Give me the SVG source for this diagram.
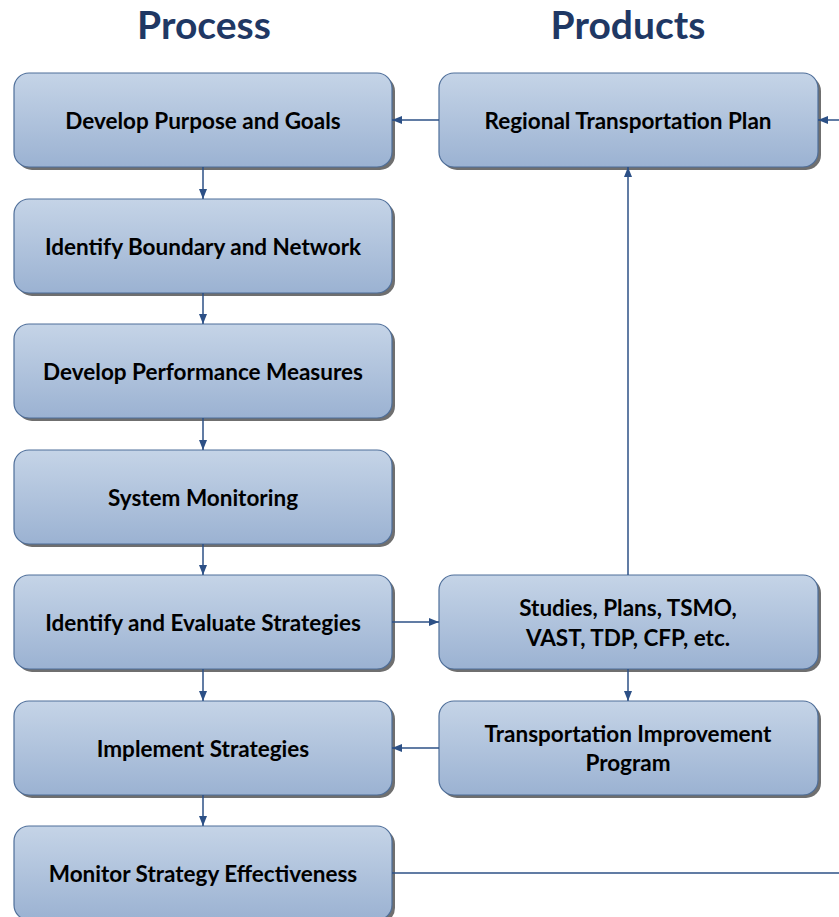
<svg xmlns="http://www.w3.org/2000/svg" width="839" height="917" viewBox="0 0 839 917">
<defs>
<linearGradient id="g" x1="0" y1="0" x2="0" y2="1">
<stop offset="0" stop-color="#c5d4e7"/>
<stop offset="1" stop-color="#9bb2d2"/>
</linearGradient>
<marker id="ah" markerWidth="10" markerHeight="8" refX="10" refY="4" orient="auto" markerUnits="userSpaceOnUse">
<path d="M0,0 L10,4 L0,8 z" fill="#2c5086"/>
</marker>
<style>
.box{fill:url(#g);stroke:#4f6f9a;stroke-width:1.2}
.sh{fill:#6f6f6f}
.t{font-family:Lato,"Open Sans",sans-serif;font-weight:bold;font-size:22.5px;fill:#000;text-anchor:middle;dominant-baseline:central}
.h{font-family:Lato,"Open Sans",sans-serif;font-weight:bold;font-size:39px;fill:#1f3864;text-anchor:middle}
.c{stroke:#2c5086;stroke-width:1.5;fill:none}
</style>
</defs>
<rect width="839" height="917" fill="#fff"/>
<text class="h" x="204" y="39">Process</text>
<text class="h" x="628" y="39">Products</text>

<g id="n1"><rect class="sh" x="17" y="76" width="378" height="94" rx="15"/><rect class="box" x="14" y="73" width="378" height="94" rx="15"/><text class="t" x="203" y="120">Develop Purpose and Goals</text></g>
<g id="n2"><rect class="sh" x="17" y="202" width="378" height="94" rx="15"/><rect class="box" x="14" y="199" width="378" height="94" rx="15"/><text class="t" x="203" y="246">Identify Boundary and Network</text></g>
<g id="n3"><rect class="sh" x="17" y="327" width="378" height="94" rx="15"/><rect class="box" x="14" y="324" width="378" height="94" rx="15"/><text class="t" x="203" y="371">Develop Performance Measures</text></g>
<g id="n4"><rect class="sh" x="17" y="453" width="378" height="94" rx="15"/><rect class="box" x="14" y="450" width="378" height="94" rx="15"/><text class="t" x="203" y="497">System Monitoring</text></g>
<g id="n5"><rect class="sh" x="17" y="578" width="378" height="94" rx="15"/><rect class="box" x="14" y="575" width="378" height="94" rx="15"/><text class="t" x="203" y="622">Identify and Evaluate Strategies</text></g>
<g id="n6"><rect class="sh" x="17" y="704" width="378" height="94" rx="15"/><rect class="box" x="14" y="701" width="378" height="94" rx="15"/><text class="t" x="203" y="748">Implement Strategies</text></g>
<g id="n7"><rect class="sh" x="17" y="829" width="378" height="94" rx="15"/><rect class="box" x="14" y="826" width="378" height="94" rx="15"/><text class="t" x="203" y="873">Monitor Strategy Effectiveness</text></g>

<g id="p1"><rect class="sh" x="442" y="76" width="379" height="94" rx="15"/><rect class="box" x="439" y="73" width="379" height="94" rx="15"/><text class="t" x="628" y="120">Regional Transportation Plan</text></g>
<g id="p2"><rect class="sh" x="442" y="578" width="379" height="94" rx="15"/><rect class="box" x="439" y="575" width="379" height="94" rx="15"/><text class="t" x="628" y="607">Studies, Plans, TSMO,</text><text class="t" x="628" y="637">VAST, TDP, CFP, etc.</text></g>
<g id="p3"><rect class="sh" x="442" y="704" width="379" height="94" rx="15"/><rect class="box" x="439" y="701" width="379" height="94" rx="15"/><text class="t" x="628" y="733">Transportation Improvement</text><text class="t" x="628" y="762">Program</text></g>

<g id="connectors">
<line class="c" x1="203" y1="167" x2="203" y2="199" marker-end="url(#ah)"/>
<line class="c" x1="203" y1="293" x2="203" y2="324" marker-end="url(#ah)"/>
<line class="c" x1="203" y1="418" x2="203" y2="450" marker-end="url(#ah)"/>
<line class="c" x1="203" y1="544" x2="203" y2="575" marker-end="url(#ah)"/>
<line class="c" x1="203" y1="669" x2="203" y2="701" marker-end="url(#ah)"/>
<line class="c" x1="203" y1="795" x2="203" y2="826" marker-end="url(#ah)"/>
<line class="c" x1="439" y1="120" x2="392" y2="120" marker-end="url(#ah)"/>
<line class="c" x1="839" y1="120" x2="818" y2="120" marker-end="url(#ah)"/>
<line class="c" x1="628" y1="575" x2="628" y2="167" marker-end="url(#ah)"/>
<line class="c" x1="392" y1="622" x2="439" y2="622" marker-end="url(#ah)"/>
<line class="c" x1="628" y1="669" x2="628" y2="701" marker-end="url(#ah)"/>
<line class="c" x1="439" y1="748" x2="392" y2="748" marker-end="url(#ah)"/>
<line class="c" x1="392" y1="873" x2="839" y2="873"/>
</g>
</svg>
